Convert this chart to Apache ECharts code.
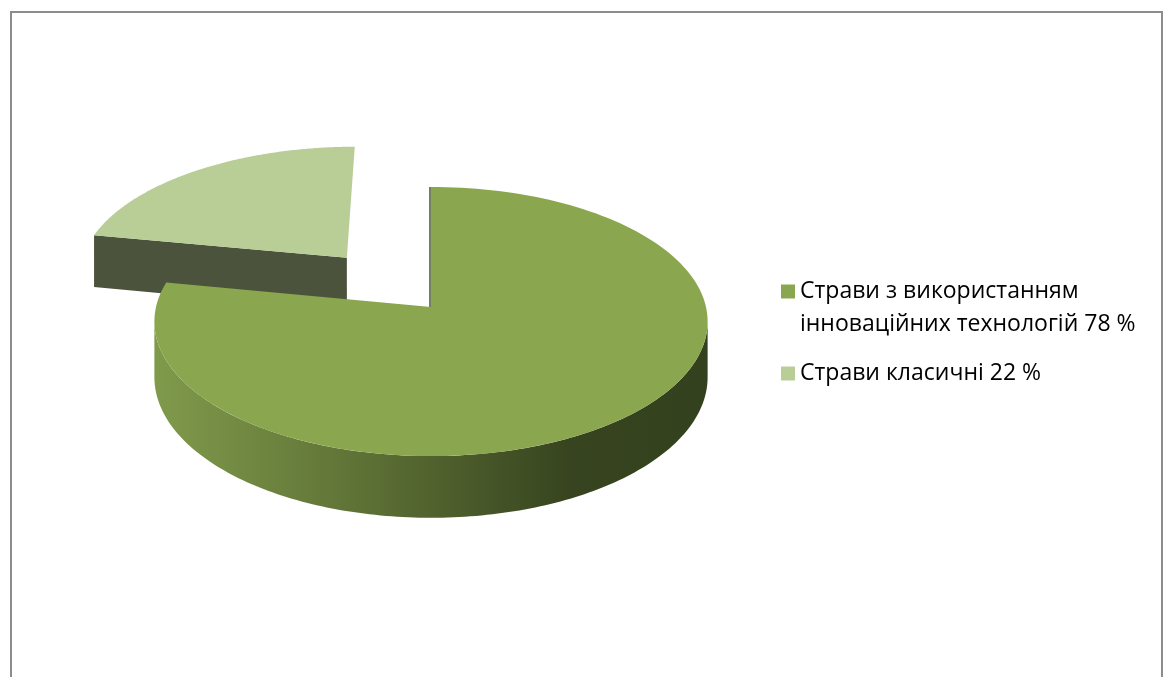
<!DOCTYPE html>
<html>
<head>
<meta charset="utf-8">
<script src="https://cdn.jsdelivr.net/npm/echarts@6/dist/echarts.min.js"></script>
<style>
  html, body { margin: 0; padding: 0; background: #fff; }
  #main { width: 1168px; height: 677px; }
</style>
</head>
<body>
<div id="main"></div>
<script>
// дані діаграми
var names = ['Страви з використанням\nінноваційних технологій 78 %', 'Страви класичні 22 %'];
var values = [78, 22];
var topColors = ['#8aa64e', '#b9cd96'];
var sideColors = ['#4b533c', '#4b533c'];
var explode = [0, 0.5];

// "3D" проекція диска
var cx = 431, cy = 307, rx = 275, ry = 133, depth = 55, persp = 0.108;

function project(X, Y, Z) {
  var p = 1 / (1 - persp * Y);
  return [cx + rx * X * p, cy + (ry * Y + depth * Z) * p];
}

var total = values.reduce(function (a, b) { return a + b; }, 0);

function buildSlice(idx, val) {
  var before = 0;
  for (var j = 0; j < idx; j++) before += values[j];
  var a0 = before / total * Math.PI * 2;
  var a1 = a0 + val / total * Math.PI * 2;
  var mid = (a0 + a1) / 2;
  var ox = Math.sin(mid) * explode[idx], oy = -Math.cos(mid) * explode[idx];
  function pt(a, r, z) {
    return project(ox + r * Math.sin(a), oy - r * Math.cos(a), z);
  }
  var steps = 160;
  var children = [];

  // бічна грань по радіусу (початок сектора)
  if (Math.sin(a0) < -0.01) {
    children.push({
      type: 'polygon',
      shape: { points: [pt(a0, 0, 0), pt(a0, 1, 0), pt(a0, 1, 1), pt(a0, 0, 1)] },
      style: { fill: sideColors[idx] }
    });
  } else if (Math.abs(Math.sin(a0)) <= 0.01) {
    // грань видно майже з ребра - тонка темна лінія
    children.push({
      type: 'line',
      shape: { x1: pt(a0, 0, 0)[0] - 1, y1: pt(a0, 0, 0)[1], x2: pt(a0, 1, 0)[0] - 1, y2: pt(a0, 1, 0)[1] },
      style: { stroke: '#46542a', lineWidth: 1.5 }
    });
  }
  // кінець сектора
  if (Math.sin(a1) > 0.01) {
    children.push({
      type: 'polygon',
      shape: { points: [pt(a1, 0, 0), pt(a1, 1, 0), pt(a1, 1, 1), pt(a1, 0, 1)] },
      style: { fill: sideColors[idx] }
    });
  }

  // зовнішня стінка (видима частина)
  var s0 = Math.acos(-persp), s1 = Math.PI * 2 - Math.acos(-persp);
  var w0 = Math.max(a0, s0), w1 = Math.min(a1, s1);
  if (w1 > w0) {
    var wall = [];
    for (var k = 0; k <= steps; k++) wall.push(pt(w0 + (w1 - w0) * k / steps, 1, 0));
    for (var k2 = steps; k2 >= 0; k2--) wall.push(pt(w0 + (w1 - w0) * k2 / steps, 1, 1));
    children.push({
      type: 'polygon',
      shape: { points: wall },
      style: {
        fill: {
          type: 'linear', x: 0, y: 0, x2: 1, y2: 0,
          colorStops: [
            { offset: 0, color: '#809a4b' },
            { offset: 0.3, color: '#657a3a' },
            { offset: 0.55, color: '#4c5c2b' },
            { offset: 0.75, color: '#37441f' },
            { offset: 1, color: '#34411e' }
          ]
        }
      }
    });
  }

  // верхня грань
  var topPts = [pt(a0, 0, 0)];
  for (var m = 0; m <= steps; m++) topPts.push(pt(a0 + (a1 - a0) * m / steps, 1, 0));
  children.push({
    type: 'polygon',
    shape: { points: topPts },
    style: { fill: topColors[idx] }
  });

  return { type: 'group', children: children };
}

var chart = echarts.init(document.getElementById('main'));

var option = {
  animation: false,
  backgroundColor: '#fff',
  color: topColors,
  legend: {
    orient: 'vertical',
    left: 781,
    top: 242,
    padding: 0,
    icon: 'rect',
    itemWidth: 14,
    itemHeight: 14,
    itemGap: 16,
    selectedMode: false,
    // порожній рядок зверху, щоб маркер стояв навпроти першого рядка
    formatter: function (name) {
      return name.indexOf('\n') >= 0 ? '\n' + name : name;
    },
    textStyle: {
      fontFamily: 'Open Sans',
      fontSize: 23,
      color: '#000',
      lineHeight: 33
    },
    data: names
  },
  graphic: [{
    type: 'rect',
    silent: true,
    shape: { x: 11, y: 12, width: 1151, height: 720 },
    style: { fill: 'none', stroke: '#8c8c8c', lineWidth: 2 }
  }],
  series: values.map(function (v, i) {
    return {
      type: 'custom',
      name: names[i],
      coordinateSystem: 'none',
      z: i === 0 ? 3 : 2,
      itemStyle: { color: topColors[i] },
      data: [[i, v]],
      renderItem: function (params, api) {
        return buildSlice(api.value(0), api.value(1));
      }
    };
  })
};

chart.setOption(option);
</script>
</body>
</html>
